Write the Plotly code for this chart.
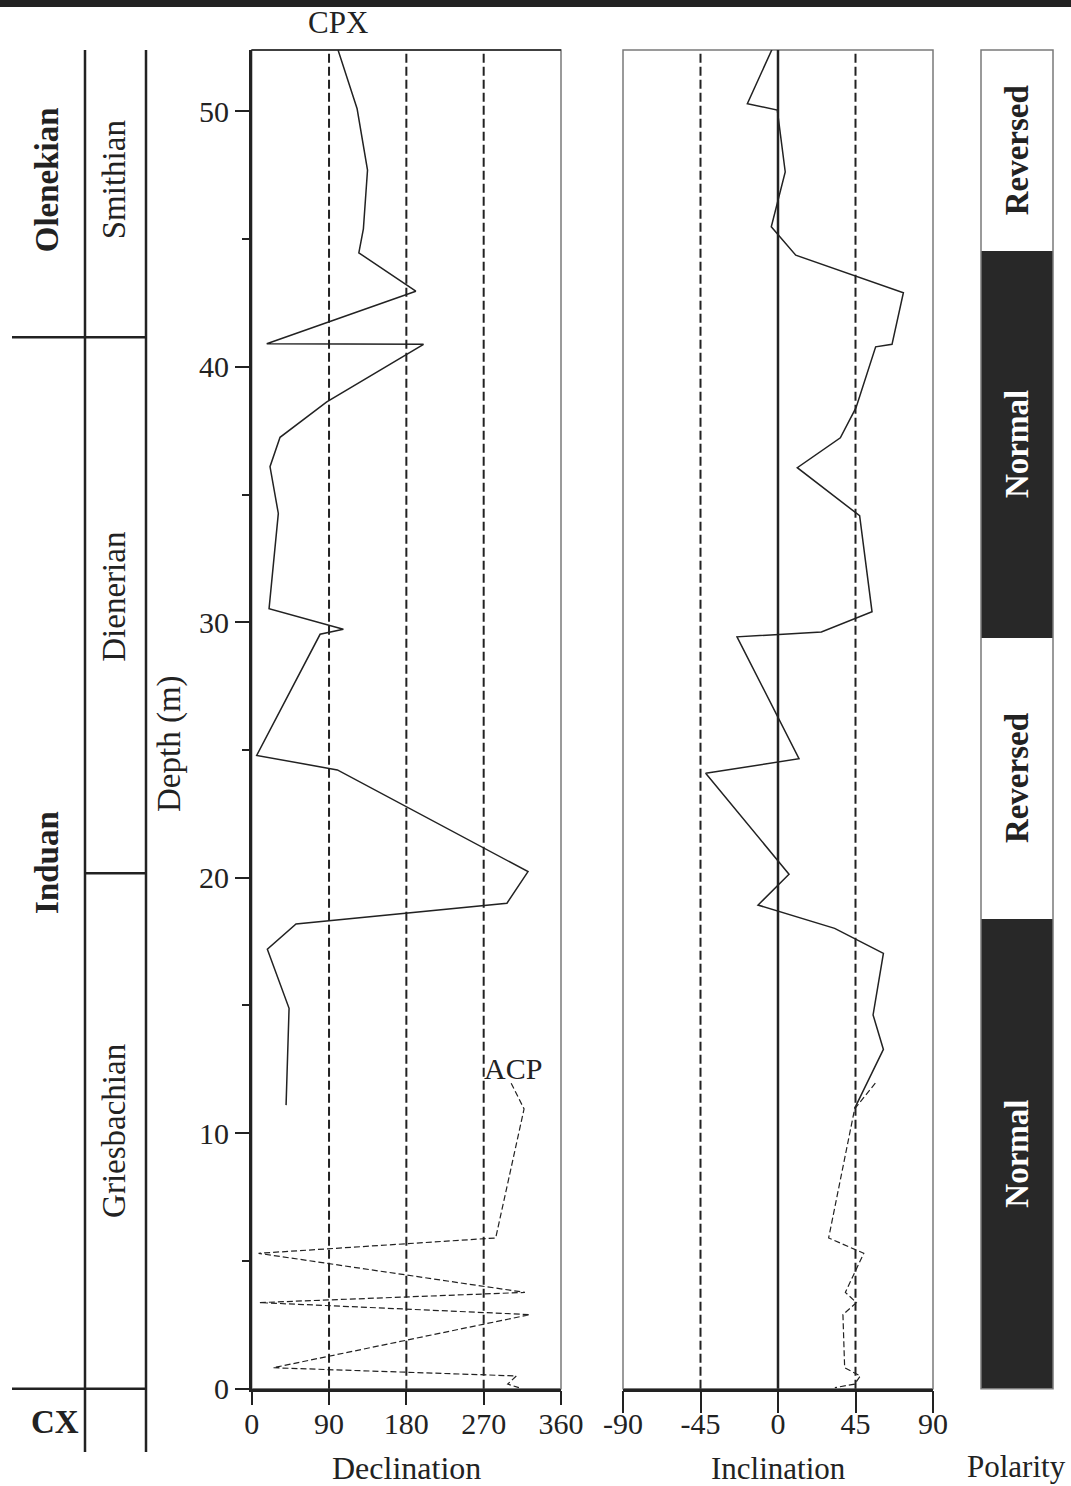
import plotly.graph_objects as go

# ---------------- data ----------------
# CPX component (solid line)
cpx_dec_depth = [52.4, 50.3, 50.1, 47.7, 45.4, 44.46, 42.96, 40.9, 40.88, 38.63, 37.24, 36.09, 34.26,
                 30.53, 29.73, 29.53, 24.79, 24.22, 20.24, 19.0, 18.19, 17.2, 14.89, 11.1]
cpx_dec = [100.5, 121, 122.7, 134.8, 130, 124.7, 191, 17.5, 200, 87.4, 33, 21.3, 31,
           20.2, 106.7, 79.6, 5.8, 99.7, 321.6, 297.1, 51.6, 18.2, 43.5, 40]

cpx_inc_depth = [52.42, 50.3, 50.05, 47.63, 45.48, 44.37, 42.9, 40.88, 40.78, 38.4, 37.22, 36.05, 34.17,
                 30.41, 29.62, 29.43, 24.66, 24.09, 20.14, 18.93, 18.02, 17.04, 14.63, 13.28, 10.97]
cpx_inc = [-3.5, -17.8, -0.4, 4.2, -3.9, 10.3, 72.8, 66.2, 56.7, 45.3, 36.2, 11.2, 47.4,
           54.6, 25.2, -23.8, 12.2, -42, 6.4, -11.6, 32.9, 61.2, 55.2, 61.2, 44.5]

# ACP component (dashed line)
acp_depth = [11.96, 10.95, 5.9, 5.3, 3.77, 3.37, 2.9, 0.82, 0.5, 0.18, 0.04]
acp_dec = [302, 317, 284, 8, 318, 9, 324, 25, 308, 298, 311]
acp_inc = [56.5, 44.5, 29.4, 49.8, 39.1, 45.5, 37.7, 38.7, 47.8, 44.5, 33]

# Polarity zones
polarity_base = [0.0, 18.4, 29.4, 44.55]
polarity_top = [18.4, 29.4, 44.55, 52.4]
polarity_label = ["Normal", "Reversed", "Normal", "Reversed"]

# Stratigraphy
stage_names = ["Olenekian", "Induan"]
stage_base = [41.16, 0.0]
stage_top = [52.4, 41.16]
substage_names = ["Smithian", "Dienerian", "Griesbachian"]
substage_base = [41.16, 20.18, 0.0]
substage_top = [52.4, 41.16, 20.18]

dec_ticks = [0, 90, 180, 270, 360]
dec_ticktext = ["0", "90", "180", "270", "360"]
inc_ticks = [-90, -45, 0, 45, 90]
inc_ticktext = ["-90", "-45", "0", "45", "90"]
dec_guides = [90, 180, 270]
inc_guides = [-45, 45]

# ---------------- layout constants ----------------
W, H = 1071, 1486
FONT = "Liberation Serif, Times New Roman, serif"
DARK = "#222222"
GRAY = "#7a7a7a"
DMAX = 52.4
PY_BOTTOM = 1388.7
PY_TOP = 50


def px(x):
    return x / W


def py(y):
    return 1 - y / H


Y_DOM = [py(PY_BOTTOM), py(PY_TOP)]


def dpy(d):
    # depth -> paper y, consistent with the depth axis
    return Y_DOM[0] + d / DMAX * (Y_DOM[1] - Y_DOM[0])


fig = go.Figure()

line_solid = dict(color=DARK, width=1.5)
line_dash = dict(color=DARK, width=1.2, dash="6px,3px")

fig.add_trace(go.Scatter(x=cpx_dec, y=cpx_dec_depth, mode="lines", line=line_solid,
                         xaxis="x", yaxis="y", hoverinfo="skip"))
fig.add_trace(go.Scatter(x=acp_dec, y=acp_depth, mode="lines", line=line_dash,
                         xaxis="x", yaxis="y", hoverinfo="skip"))
fig.add_trace(go.Scatter(x=cpx_inc, y=cpx_inc_depth, mode="lines", line=line_solid,
                         xaxis="x2", yaxis="y2", hoverinfo="skip"))
fig.add_trace(go.Scatter(x=acp_inc, y=acp_depth, mode="lines", line=line_dash,
                         xaxis="x2", yaxis="y2", hoverinfo="skip"))

pol_colors = ["#282828" if p == "Normal" else "#ffffff" for p in polarity_label]
fig.add_trace(go.Bar(x=[0.5] * len(polarity_base),
                     y=[t - b for t, b in zip(polarity_top, polarity_base)],
                     base=polarity_base, width=1, marker=dict(color=pol_colors, line=dict(width=0)),
                     xaxis="x3", yaxis="y3", hoverinfo="skip"))

tickfont = dict(family=FONT, size=30, color=DARK)

fig.update_layout(
    template="none",
    width=W, height=H, margin=dict(l=0, r=0, t=0, b=0, pad=0, autoexpand=False),
    paper_bgcolor="white", plot_bgcolor="rgba(0,0,0,0)", showlegend=False,
    bargap=0,
    xaxis=dict(domain=[px(251.7), px(561)], range=[0, 360], tickmode="array", tickvals=dec_ticks,
               ticktext=dec_ticktext,
               ticks="outside", ticklen=14, tickwidth=2, tickcolor=DARK, showline=True,
               linecolor=DARK, linewidth=2.5, showgrid=False, zeroline=False, anchor="y",
               tickfont=tickfont, automargin=False, ticklabelstandoff=-7),
    yaxis=dict(domain=Y_DOM, range=[0, DMAX], tick0=0, dtick=10, ticks="outside", ticklen=14,
               tickwidth=2, tickcolor=DARK, showline=True, linecolor=DARK, linewidth=2.5,
               showgrid=False, zeroline=False, anchor="x", tickfont=tickfont, automargin=False,
               minor=dict(dtick=5, ticklen=7, tickwidth=2, tickcolor=DARK, ticks="outside",
                          showgrid=False)),
    xaxis2=dict(domain=[px(623), px(933)], range=[-90, 90], tickmode="array", tickvals=inc_ticks,
                ticktext=inc_ticktext,
                ticks="outside", ticklen=22, tickwidth=2, tickcolor=DARK, showline=True,
                linecolor=DARK, linewidth=2.5, showgrid=False, zeroline=False, anchor="y2",
                tickfont=tickfont, automargin=False, ticklabelstandoff=-15),
    yaxis2=dict(domain=Y_DOM, range=[0, DMAX], matches="y", showticklabels=False, ticks="",
                showline=False, showgrid=False, zeroline=False, anchor="x2", automargin=False),
    xaxis3=dict(domain=[px(981), px(1053)], range=[0, 1], visible=False, anchor="y3",
                automargin=False),
    yaxis3=dict(domain=Y_DOM, range=[0, DMAX], matches="y", visible=False, anchor="x3",
                automargin=False),
)

shapes = []
# top dark band
shapes.append(dict(type="rect", xref="paper", yref="paper", x0=0, x1=1, y0=py(7), y1=1,
                   fillcolor=DARK, line=dict(width=0), layer="above"))
# panel borders
shapes.append(dict(type="rect", xref="x domain", yref="y domain", x0=0, x1=1, y0=0, y1=1,
                   line=dict(color=GRAY, width=1.5), layer="below"))
shapes.append(dict(type="line", xref="x domain", yref="y domain", x0=0, x1=1, y0=1, y1=1,
                   line=dict(color=DARK, width=1.5)))
shapes.append(dict(type="rect", xref="x2 domain", yref="y2 domain", x0=0, x1=1, y0=0, y1=1,
                   line=dict(color=GRAY, width=1.5), layer="below"))
shapes.append(dict(type="rect", xref="x3 domain", yref="y3 domain", x0=0, x1=1, y0=0, y1=1,
                   line=dict(color=GRAY, width=1.5), layer="above"))
# guide lines
for g in dec_guides:
    shapes.append(dict(type="line", xref="x", yref="y domain", x0=g, x1=g, y0=0, y1=1,
                       line=dict(color=DARK, width=2, dash="9px,4px"), layer="below"))
for g in inc_guides:
    shapes.append(dict(type="line", xref="x2", yref="y2 domain", x0=g, x1=g, y0=0, y1=1,
                       line=dict(color=DARK, width=2, dash="9px,4px"), layer="below"))
shapes.append(dict(type="line", xref="x2", yref="y2 domain", x0=0, x1=0, y0=0, y1=1,
                   line=dict(color=DARK, width=2.5), layer="below"))

# stratigraphic columns
XL, XM, XR = px(12), px(85), px(146)
col_line = dict(color=DARK, width=2.5)
for xc in (XM, XR):
    shapes.append(dict(type="line", xref="paper", yref="paper", x0=xc, x1=xc,
                       y0=py(1452), y1=dpy(DMAX), line=col_line))
for b in stage_base:
    shapes.append(dict(type="line", xref="paper", yref="paper", x0=XL, x1=XR,
                       y0=dpy(b), y1=dpy(b), line=col_line))
for b in substage_base:
    if b not in stage_base:
        shapes.append(dict(type="line", xref="paper", yref="paper", x0=XM, x1=XR,
                           y0=dpy(b), y1=dpy(b), line=col_line))
fig.update_layout(shapes=shapes)

ann = []


def text(t, x, y, size=32, bold=False, angle=0, color=DARK, xref="paper", yref="paper"):
    s = f"<b>{t}</b>" if bold else t
    ann.append(dict(text=s, x=x, y=y, xref=xref, yref=yref, showarrow=False, textangle=angle,
                    xanchor="center", yanchor="middle",
                    font=dict(family=FONT, size=size, color=color)))


for name, b, t in zip(stage_names, stage_base, stage_top):
    mid = (b + t) / 2 if t < DMAX else 47.3
    text(name, px(47), dpy(mid), size=33, bold=True, angle=-90)
for name, b, t in zip(substage_names, substage_base, substage_top):
    mid = (b + t) / 2 if t < DMAX else 47.3
    if name == "Dienerian":
        mid = 31.0
    text(name, px(114), dpy(mid), size=33, angle=-90)
text("CX", px(55), py(1422), size=33, bold=True)

for lab, b, t in zip(polarity_label, polarity_base, polarity_top):
    col = "white" if lab == "Normal" else DARK
    text(lab, 0.5, (b + t) / 2, size=33, bold=True, angle=-90, color=col, xref="x3", yref="y3")

text("Depth (m)", px(170), py(744), size=33, angle=-90)
text("CPX", 100, py(22), size=31, xref="x")
text("ACP", 304, 12.55, size=30, xref="x", yref="y")
text("Declination", 180, py(1468), size=32, xref="x")
text("Inclination", 0, py(1468), size=31, xref="x2")
text("Polarity", px(1016), py(1466), size=31)

fig.update_layout(annotations=ann)
fig.write_html("out.html", config={"displayModeBar": False},
               post_script="document.body.style.margin='0';document.body.style.overflow='hidden';")
